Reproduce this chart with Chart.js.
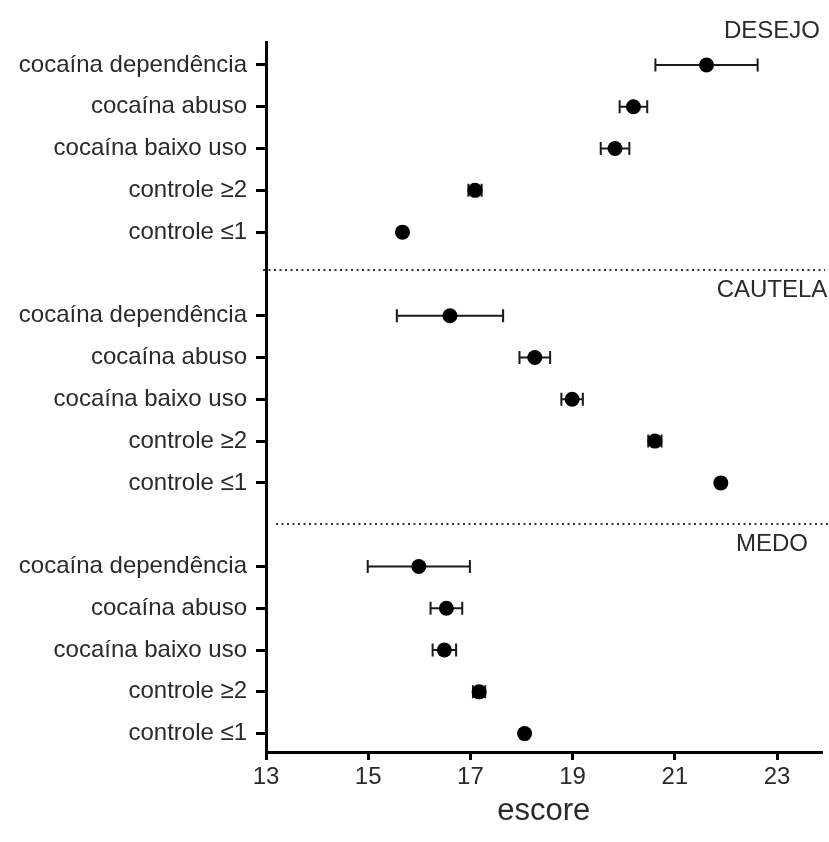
<!DOCTYPE html>
<html>
<head>
<meta charset="utf-8">
<script src="https://cdn.jsdelivr.net/npm/chart.js@4"></script>
<style>
  body { margin: 0; background: #fff; }
  #wrap { width: 829px; height: 842px; }
</style>
</head>
<body>
<div id="wrap"><canvas id="chart" width="829" height="842"></canvas></div>
<script>
// categories
const groups = ['DESEJO', 'CAUTELA', 'MEDO'];
const rowLabels = ['cocaína dependência', 'cocaína abuso', 'cocaína baixo uso', 'controle ≥2', 'controle ≤1'];
const xTicks = [13, 15, 17, 19, 21, 23];

// means and error half-widths (escore)
const desejoMean = [21.62, 20.19, 19.83, 17.09, 15.67];
const desejoErr = [1.0, 0.27, 0.28, 0.13, 0.05];
const cautelaMean = [16.60, 18.26, 18.99, 20.61, 21.90];
const cautelaErr = [1.04, 0.30, 0.21, 0.13, 0.05];
const medoMean = [15.99, 16.53, 16.49, 17.17, 18.06];
const medoErr = [1.0, 0.31, 0.23, 0.12, 0.05];

const means = [desejoMean, cautelaMean, medoMean];
const errs = [desejoErr, cautelaErr, medoErr];

// each group takes 5 rows plus one empty row between groups
const rows = [];
means.forEach((m, g) => {
    m.forEach((v, i) => rows.push({ slot: g * 6 + i, mean: v, err: errs[g][i] }));
});
const separatorSlots = [4.9, 10.98];

const textColor = '#2a2a2a';
Chart.defaults.font.family = '"Liberation Sans", Arial, sans-serif';
Chart.defaults.color = textColor;

const extras = {
    id: 'extras',
    beforeDatasetsDraw(chart) {
        const { ctx, scales: { x, y } } = chart;
        ctx.save();
        ctx.strokeStyle = '#1a1a1a';
        ctx.lineWidth = 2;
        rows.forEach(r => {
            const py = y.getPixelForValue(r.slot);
            const x0 = x.getPixelForValue(r.mean - r.err);
            const x1 = x.getPixelForValue(r.mean + r.err);
            ctx.beginPath();
            ctx.moveTo(x0, py); ctx.lineTo(x1, py);
            ctx.moveTo(x0, py - 6.5); ctx.lineTo(x0, py + 6.5);
            ctx.moveTo(x1, py - 6.5); ctx.lineTo(x1, py + 6.5);
            ctx.stroke();
        });
        ctx.restore();
    },
    afterDraw(chart) {
        const { ctx, chartArea, scales: { y } } = chart;
        ctx.save();
        // dotted separators between groups
        ctx.strokeStyle = '#333';
        ctx.lineWidth = 2;
        ctx.setLineDash([2, 3.5]);
        separatorSlots.forEach((s, i) => {
            const py = Math.round(y.getPixelForValue(s));
            ctx.beginPath();
            ctx.moveTo(chartArea.left + (i === 0 ? -3 : 10), py);
            ctx.lineTo(chart.width - (i === 0 ? 4 : 0), py);
            ctx.stroke();
        });
        ctx.setLineDash([]);
        // group titles
        ctx.fillStyle = textColor;
        ctx.font = '24px "Liberation Sans", Arial, sans-serif';
        ctx.textAlign = 'center';
        ctx.textBaseline = 'middle';
        const cx = chart.width - 57;
        groups.forEach((gName, g) => {
            const py = g === 0 ? chartArea.top - 11 : y.getPixelForValue(separatorSlots[g - 1]) + 21;
            ctx.fillText(gName, cx, py);
        });
        ctx.restore();
    }
};

new Chart(document.getElementById('chart'), {
    type: 'scatter',
    data: {
        datasets: [{
            data: rows.map(r => ({ x: r.mean, y: r.slot })),
            backgroundColor: '#000',
            borderWidth: 0,
            pointRadius: 7.5,
            pointHoverRadius: 7.5
        }]
    },
    options: {
        responsive: false,
        animation: false,
        layout: { padding: { top: 42, right: 0, bottom: 0, left: 0 } },
        plugins: {
            legend: { display: false },
            tooltip: { enabled: false }
        },
        scales: {
            x: {
                type: 'linear',
                min: 13,
                max: 23.87,
                afterBuildTicks: s => { s.ticks = xTicks.map(v => ({ value: v })); },
                afterFit: s => { s.height = 90; s.paddingLeft = 0; s.paddingRight = 0; },
                border: { color: '#000', width: 3 },
                grid: { drawOnChartArea: false, drawTicks: true, tickLength: 8, color: '#000', lineWidth: 3 },
                ticks: {
                    autoSkip: false, maxRotation: 0, padding: 3,
                    font: { size: 24 }, color: textColor,
                    callback: v => String(v)
                },
                title: {
                    display: true, text: 'escore',
                    font: { size: 31 }, color: textColor,
                    padding: { top: 0, bottom: 12 }
                }
            },
            y: {
                type: 'linear',
                reverse: true,
                min: -0.55,
                max: 16.44,
                afterBuildTicks: s => { s.ticks = rows.map(r => ({ value: r.slot })); },
                afterFit: s => { s.width = 266; s.paddingTop = 0; s.paddingBottom = 0; },
                border: { color: '#000', width: 3 },
                grid: { drawOnChartArea: false, drawTicks: true, tickLength: 10, color: '#000', lineWidth: 3 },
                ticks: {
                    autoSkip: false, padding: 9,
                    font: { size: 24 }, color: textColor,
                    callback: v => rowLabels[v % 6]
                }
            }
        }
    },
    plugins: [extras]
});
</script>
</body>
</html>
